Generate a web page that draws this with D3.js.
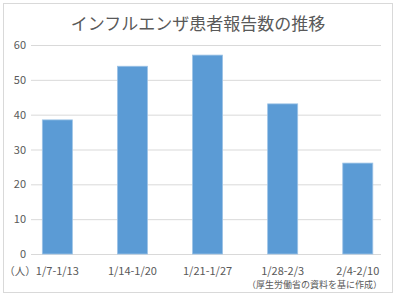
<!DOCTYPE html>
<html>
<head>
<meta charset="utf-8">
<script src="https://cdn.jsdelivr.net/npm/d3@7.9.0/dist/d3.min.js"></script>
<style>
  html, body { margin: 0; padding: 0; background: #fff; }
  svg { display: block; font-family: "Noto Sans CJK JP", "Noto Sans", sans-serif; }
</style>
</head>
<body>
<svg id="chart" width="396" height="297"></svg>
<script>
const weeks = ['1/7-1/13', '1/14-1/20', '1/21-1/27', '1/28-2/3', '2/4-2/10'];
const patients = [38.5, 53.9, 57.1, 43.1, 26.1];
const yTicks = [0, 10, 20, 30, 40, 50, 60];

const title = 'インフルエンザ患者報告数の推移';
const unitLabel = '（人）';
const sourceNote = '（厚生労働省の資料を基に作成）';

function drawChart() {
  const svg = d3.select('#chart');
  svg.selectAll('*').remove();

  const left = 31, right = 381, top = 45, bottom = 254;
  const textColor = '#595959';

  // outer frame
  svg.append('rect')
    .attr('x', 3.5).attr('y', 3.5)
    .attr('width', 389).attr('height', 289)
    .attr('fill', '#fff')
    .attr('stroke', '#d9d9d9');

  const x = d3.scaleBand()
    .domain(weeks)
    .range([left, right])
    .paddingInner(0.6)
    .paddingOuter(0.13)
    .align(0.58);

  const y = d3.scaleLinear().domain([0, 60]).range([bottom, top]);

  // gridlines
  svg.append('g')
    .selectAll('line')
    .data(yTicks)
    .join('line')
    .attr('x1', left).attr('x2', right)
    .attr('y1', d => y(d) + 0.5).attr('y2', d => y(d) + 0.5)
    .attr('stroke', '#d9d9d9')
    .attr('stroke-width', 1);

  // y tick labels
  svg.append('g')
    .selectAll('text')
    .data(yTicks)
    .join('text')
    .attr('x', 26)
    .attr('y', d => y(d) + 4)
    .attr('text-anchor', 'end')
    .attr('font-size', 11)
    .attr('fill', textColor)
    .text(d => d);

  // bars
  svg.append('g')
    .selectAll('rect')
    .data(patients)
    .join('rect')
    .attr('x', (d, i) => x(weeks[i]))
    .attr('y', d => y(d))
    .attr('width', x.bandwidth())
    .attr('height', d => y(0) - y(d))
    .attr('fill', '#5b9bd5')
    .attr('stroke', '#9dc3e6')
    .attr('stroke-width', 0.8);

  // x labels
  svg.append('g')
    .selectAll('text')
    .data(weeks)
    .join('text')
    .attr('x', d => x(d) + x.bandwidth() / 2)
    .attr('y', 275)
    .attr('text-anchor', 'middle')
    .attr('font-size', 11)
    .attr('fill', textColor)
    .text(d => d);

  svg.append('text')
    .attr('x', 20).attr('y', 275)
    .attr('text-anchor', 'middle')
    .attr('font-size', 10.5)
    .attr('fill', textColor)
    .text(unitLabel);

  svg.append('text')
    .attr('x', 382).attr('y', 288)
    .attr('text-anchor', 'end')
    .attr('font-size', 9)
    .attr('fill', textColor)
    .text(sourceNote);

  svg.append('text')
    .attr('x', 198).attr('y', 30)
    .attr('text-anchor', 'middle')
    .attr('font-size', 17)
    .attr('fill', textColor)
    .text(title);
}

drawChart();
</script>
</body>
</html>
